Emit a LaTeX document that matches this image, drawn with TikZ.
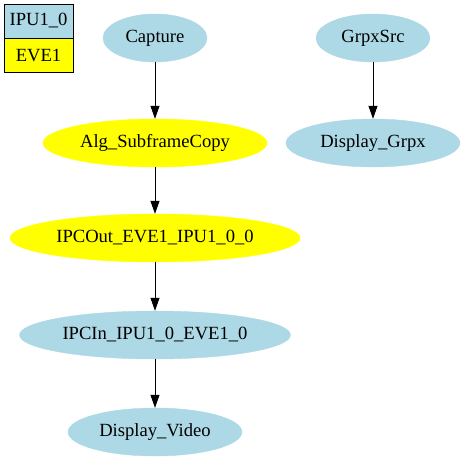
\documentclass[tikz,border=0pt]{standalone}
\usepackage{fontspec}
\setmainfont{Liberation Serif}
\usetikzlibrary{shapes.geometric,arrows.meta}
\definecolor{lblue}{RGB}{173,216,230}
\definecolor{gyellow}{RGB}{255,255,0}
\tikzset{
  gnode/.style={ellipse, inner sep=0pt, minimum height=48pt, font=\fontsize{18.6}{20}\selectfont},
  bluenode/.style={gnode, fill=lblue, draw=lblue},
  yellownode/.style={gnode, fill=gyellow, draw=gyellow},
  legbox/.style={rectangle, draw=black, line width=1pt, inner sep=0pt, minimum width=69pt, minimum height=34pt, font=\fontsize{18.6}{20}\selectfont},
  flow/.style={draw=black, line width=1pt, -{Triangle[length=13pt,width=9pt]}}
}
\begin{document}
\begin{tikzpicture}[x=1pt,y=-1pt]
\useasboundingbox (0,0) rectangle (461,461);
% legend
\node[legbox, fill=lblue] (lipu) at (38.5,21) {IPU1\_0};
\node[legbox, fill=gyellow] (leve) at (38.5,55) {EVE1};
% nodes
\node[bluenode, minimum width=104pt] (cap) at (155,38) {Capture};
\node[yellownode, minimum width=224pt] (alg) at (155,143) {Alg\_SubframeCopy};
\node[yellownode, minimum width=290pt] (ipcout) at (155,238) {IPCOut\_EVE1\_IPU1\_0\_0};
\node[bluenode, minimum width=271pt] (ipcin) at (155,335) {IPCIn\_IPU1\_0\_EVE1\_0};
\node[bluenode, minimum width=174pt] (dvid) at (155,432) {Display\_Video};
\node[bluenode, minimum width=114pt] (grpx) at (373,38) {GrpxSrc};
\node[bluenode, minimum width=174pt] (dgrpx) at (373,143) {Display\_Grpx};
% edges
\draw[flow] (cap) -- (alg);
\draw[flow] (alg) -- (ipcout);
\draw[flow] (ipcout) -- (ipcin);
\draw[flow] (ipcin) -- (dvid);
\draw[flow] (grpx) -- (dgrpx);
\end{tikzpicture}
\end{document}
